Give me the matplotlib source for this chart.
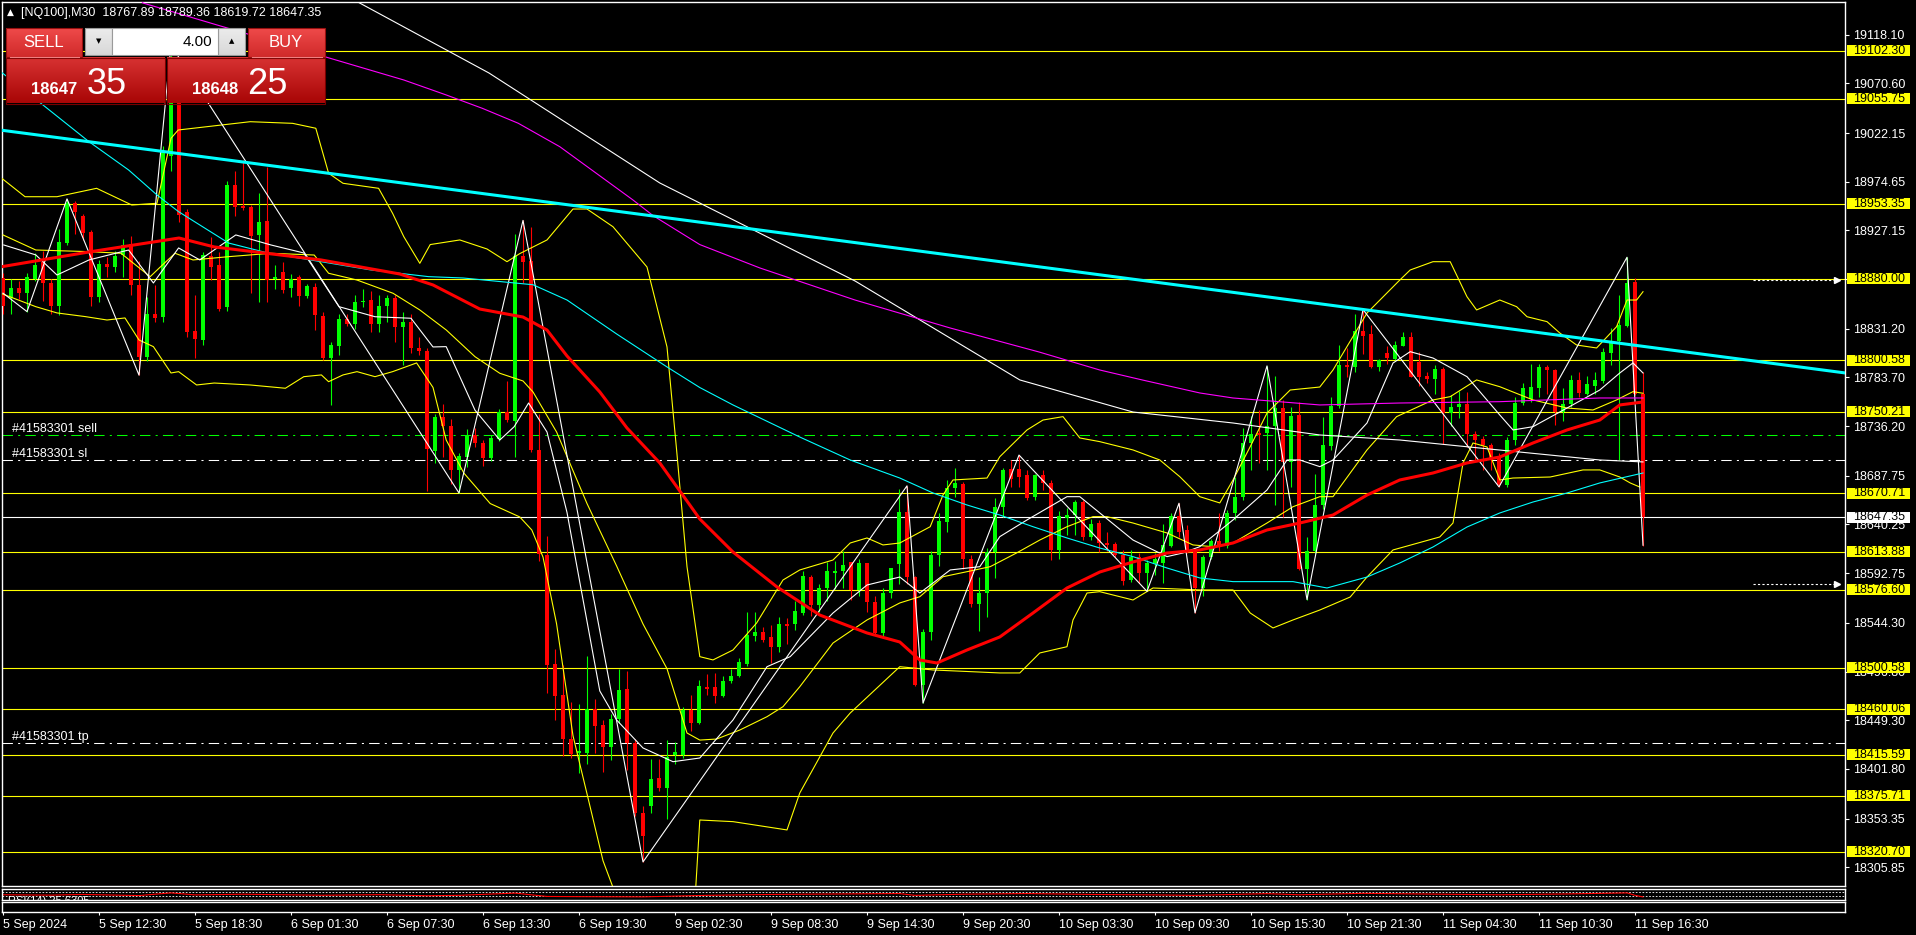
import numpy as np
import matplotlib
matplotlib.use("Agg")
import matplotlib.pyplot as plt
from matplotlib.patches import Rectangle
from matplotlib.colors import LinearSegmentedColormap
from matplotlib.transforms import blended_transform_factory

plt.rcParams['font.family'] = ['Liberation Sans', 'DejaVu Sans']

W, H, DPI = 1916, 935, 100

# ---------------- data: NQ100 M30 bars, 5 Sep 06:30 .. 11 Sep 17:00 ----------------
opens = [
    18881, 18861, 18871, 18866, 18880, 18896, 18876, 18853, 18915, 18954,
    18941, 18926, 18862, 18894, 18892, 18903, 18914, 18874, 18804, 18846,
    18843, 19000, 19058, 18945, 18829, 18820, 18902, 18893, 18852, 18972,
    18951, 18950, 18923, 18936, 18880, 18887, 18871, 18882, 18863, 18872,
    18844, 18803, 18814, 18841, 18836, 18857, 18859, 18836, 18853, 18861,
    18833, 18838, 18812, 18810, 18712, 18745, 18736, 18693, 18706, 18728,
    18720, 18705, 18724, 18750, 18741, 18902, 18897, 18713, 18610, 18504,
    18474, 18431, 18417, 18417, 18460, 18445, 18423, 18450, 18480, 18427,
    18359, 18366, 18393, 18383, 18415, 18415, 18459, 18447, 18482, 18482,
    18473, 18488, 18492, 18504, 18531, 18535, 18530, 18521, 18543, 18543,
    18554, 18589, 18562, 18578, 18593, 18595, 18604, 18576, 18603, 18565,
    18534, 18573, 18602, 18652, 18589, 18484, 18535, 18610, 18643, 18676,
    18680, 18607, 18563, 18573, 18613, 18657, 18694, 18694, 18689, 18667,
    18689, 18681, 18615, 18647, 18650, 18662, 18628, 18642, 18622, 18621,
    18610, 18586, 18609, 18593, 18603, 18603, 18619, 18649, 18635, 18614,
    18578, 18609, 18624, 18619, 18651, 18667, 18720, 18729, 18730, 18736,
    18754, 18701, 18747, 18597, 18614, 18659, 18717, 18756, 18796, 18794,
    18829, 18826, 18794, 18808, 18802, 18814, 18823, 18799, 18785, 18782,
    18792, 18749, 18755, 18758, 18729, 18724, 18718, 18706, 18679, 18723,
    18759, 18763, 18773, 18794, 18791, 18750, 18758, 18781, 18768, 18775,
    18780, 18808, 18819, 18834, 18877, 18767.89]
highs = [
    18886, 18880, 18878, 18886, 18905, 18907, 18880, 18929, 18958, 18956,
    18943, 18928, 18898, 18901, 18907, 18919, 18922, 18897, 18862, 18874,
    19010, 19108, 19075, 18948, 18864, 18906, 18921, 18906, 18975, 18985,
    18996, 18952, 18964, 18989, 18893, 18896, 18885, 18884, 18875, 18876,
    18848, 18818, 18846, 18846, 18864, 18870, 18868, 18864, 18864, 18864,
    18848, 18846, 18823, 18812, 18748, 18758, 18743, 18710, 18733, 18734,
    18723, 18728, 18753, 18780, 18924, 18937, 18931, 18748, 18629, 18519,
    18503, 18467, 18465, 18512, 18470, 18449, 18455, 18499, 18497, 18431,
    18366, 18411, 18411, 18430, 18428, 18462, 18474, 18489, 18494, 18495,
    18492, 18499, 18510, 18555, 18555, 18540, 18542, 18550, 18549, 18566,
    18595, 18591, 18582, 18604, 18605, 18614, 18604, 18607, 18603, 18570,
    18578, 18598, 18675, 18678, 18590, 18538, 18614, 18651, 18684, 18695,
    18682, 18610, 18589, 18617, 18666, 18695, 18703, 18708, 18693, 18690,
    18693, 18684, 18653, 18656, 18664, 18664, 18646, 18645, 18633, 18623,
    18615, 18615, 18612, 18606, 18612, 18641, 18651, 18661, 18640, 18615,
    18610, 18626, 18651, 18654, 18687, 18734, 18746, 18752, 18795, 18785,
    18762, 18755, 18760, 18628, 18690, 18745, 18765, 18815, 18812, 18846,
    18850, 18835, 18802, 18814, 18819, 18828, 18828, 18809, 18789, 18796,
    18794, 18767, 18771, 18770, 18731, 18727, 18720, 18710, 18726, 18765,
    18778, 18797, 18797, 18796, 18792, 18773, 18786, 18789, 18785, 18789,
    18812, 18832, 18864, 18901, 18881, 18789.36]
lows = [
    18846, 18846, 18860, 18848, 18878, 18858, 18846, 18845, 18913, 18924,
    18918, 18853, 18857, 18882, 18887, 18882, 18864, 18786, 18800, 18838,
    18838, 18985, 18935, 18823, 18803, 18815, 18879, 18849, 18849, 18941,
    18947, 18866, 18857, 18857, 18870, 18866, 18862, 18853, 18861, 18830,
    18801, 18757, 18806, 18834, 18831, 18852, 18828, 18828, 18838, 18818,
    18796, 18808, 18806, 18673, 18700, 18706, 18680, 18671, 18696, 18716,
    18697, 18702, 18722, 18740, 18706, 18876, 18711, 18605, 18476, 18449,
    18414, 18412, 18398, 18407, 18417, 18399, 18410, 18447, 18401, 18356,
    18311, 18359, 18380, 18353, 18407, 18412, 18439, 18446, 18474, 18466,
    18472, 18486, 18491, 18502, 18527, 18526, 18505, 18516, 18524, 18537,
    18552, 18551, 18555, 18566, 18577, 18578, 18567, 18570, 18555, 18533,
    18531, 18569, 18582, 18582, 18483, 18466, 18528, 18600, 18633, 18667,
    18597, 18560, 18536, 18550, 18588, 18648, 18677, 18677, 18664, 18664,
    18674, 18606, 18607, 18630, 18630, 18625, 18625, 18613, 18614, 18609,
    18581, 18584, 18583, 18575, 18591, 18583, 18618, 18628, 18612, 18554,
    18570, 18607, 18614, 18617, 18645, 18664, 18693, 18700, 18693, 18659,
    18648, 18677, 18596, 18567, 18612, 18655, 18713, 18754, 18784, 18789,
    18807, 18793, 18790, 18797, 18801, 18814, 18784, 18775, 18778, 18768,
    18719, 18736, 18744, 18716, 18703, 18693, 18693, 18677, 18677, 18718,
    18757, 18760, 18765, 18768, 18737, 18741, 18755, 18765, 18767, 18768,
    18778, 18796, 18703, 18833, 18767, 18619.72]
closes = [
    18853, 18871, 18866, 18882, 18893, 18876, 18853, 18916, 18954, 18945,
    18925, 18862, 18894, 18892, 18902, 18913, 18874, 18804, 18846, 18842,
    19004, 19060, 18942, 18828, 18821, 18903, 18892, 18851, 18972, 18950,
    18949, 18922, 18935, 18879, 18881, 18869, 18880, 18863, 18873, 18845,
    18803, 18815, 18841, 18836, 18857, 18858, 18836, 18853, 18861, 18833,
    18838, 18812, 18810, 18714, 18745, 18736, 18693, 18707, 18728, 18720,
    18705, 18725, 18750, 18742, 18902, 18896, 18713, 18611, 18503, 18473,
    18431, 18416, 18419, 18460, 18444, 18423, 18450, 18479, 18427, 18359,
    18336, 18392, 18383, 18413, 18418, 18459, 18447, 18483, 18480, 18473,
    18488, 18492, 18506, 18532, 18535, 18528, 18521, 18543, 18541, 18556,
    18590, 18562, 18578, 18595, 18595, 18601, 18576, 18603, 18565, 18534,
    18573, 18598, 18652, 18589, 18484, 18535, 18610, 18644, 18676, 18681,
    18607, 18563, 18573, 18613, 18657, 18693, 18685, 18687, 18666, 18689,
    18681, 18615, 18649, 18650, 18662, 18628, 18641, 18622, 18620, 18610,
    18585, 18609, 18593, 18603, 18607, 18620, 18649, 18633, 18614, 18578,
    18609, 18624, 18619, 18651, 18667, 18720, 18729, 18728, 18736, 18754,
    18701, 18746, 18597, 18614, 18659, 18718, 18756, 18796, 18794, 18829,
    18824, 18794, 18801, 18803, 18815, 18823, 18784, 18784, 18782, 18792,
    18749, 18755, 18758, 18729, 18723, 18718, 18703, 18679, 18723, 18759,
    18773, 18774, 18794, 18791, 18750, 18758, 18781, 18769, 18777, 18781,
    18809, 18819, 18835, 18876, 18768, 18647.35]

time_labels = ['5 Sep 2024', '5 Sep 12:30', '5 Sep 18:30', '6 Sep 01:30', '6 Sep 07:30',
               '6 Sep 13:30', '6 Sep 19:30', '9 Sep 02:30', '9 Sep 08:30', '9 Sep 14:30',
               '9 Sep 20:30', '10 Sep 03:30', '10 Sep 09:30', '10 Sep 15:30', '10 Sep 21:30',
               '11 Sep 04:30', '11 Sep 10:30', '11 Sep 16:30']
label_bars = [0, 12, 24, 36, 48, 60, 72, 84, 96, 108, 120, 132, 144, 156, 168, 180, 192, 204]

price_ticks = [19118.10, 19070.60, 19022.15, 18974.65, 18927.15, 18879.65, 18831.20, 18783.70,
               18736.20, 18687.75, 18640.25, 18592.75, 18544.30, 18496.80, 18449.30, 18401.80,
               18353.35, 18305.85]
levels = [19102.30, 19055.75, 18953.35, 18880.00, 18800.58, 18750.21, 18670.71, 18613.88,
          18576.60, 18500.58, 18460.06, 18415.59, 18375.71, 18320.70]
bid, ask = 18647.35, 18648.25
order_id = '#41583301'
sell_price, sl_price, tp_price = 18727.6, 18702.9, 18426.7
arrow_prices = [18879.0, 18582.0]

# trend line anchors (bar, price)
trend = [(0, 19024.8), (205, 18814.1)]

# indicator lines as (bar, price)
ma_red = [(-0.4, 18891.5), (10.75, 18906.2), (22, 18919.8), (26.4, 18911.1), (39.75, 18898.4),
          (49.6, 18884.7), (53.75, 18874), (59.6, 18850.5), (65, 18842.7), (68, 18830),
          (70.5, 18804.7), (74.6, 18769.6), (78, 18734.4), (82.1, 18700.3), (87.1, 18645.6),
          (91.25, 18613.4), (96.75, 18579.3), (102.1, 18551.9), (108, 18534.4), (112.1, 18525.6),
          (114.6, 18508), (116.75, 18505.1), (120.5, 18517.8), (124.6, 18530.5), (128.75, 18553.9),
          (133, 18578.3), (137.1, 18593.9), (141.25, 18603.7), (145.5, 18612.4), (149.6, 18615.4),
          (153.75, 18622.2), (158, 18634.9), (162.1, 18641.7), (166.25, 18649.5), (170.5, 18669),
          (174.6, 18683.7), (178.75, 18690.5), (183, 18700.3), (187.1, 18706.1), (191.25, 18719.8),
          (195.5, 18732.5), (199.6, 18742.2), (202.1, 18756.9), (205, 18759.8)]
ma_cyan = [(-0.4, 19082.8), (5, 19049.6), (10.75, 19013.8), (15.7, 18986.2), (19.25, 18961.8),
           (21.95, 18945.5), (28.2, 18914.9), (33.1, 18905.2), (39.75, 18896.7), (46, 18888.6),
           (53.2, 18882.1), (57.5, 18880.8), (66.25, 18874.2), (70.5, 18859.3), (76.7, 18826.2),
           (83, 18794), (87.1, 18773.9), (91.25, 18756.9), (99.6, 18725.6), (105.9, 18703.2),
           (112.1, 18685.6), (116.25, 18671), (120.5, 18659.3), (124.6, 18649.5), (128.75, 18638.1),
           (133, 18627.1), (137.1, 18617.3), (141.25, 18608.9), (145.5, 18597.8), (149.6, 18588.1),
           (153.75, 18584.5), (161.25, 18584.5), (165.5, 18578.3), (170.5, 18589), (174.6, 18602.7),
           (178.75, 18618.3), (183, 18637.8), (187.1, 18651.5), (191.25, 18662.2), (195.5, 18671),
           (199.6, 18680.8), (205, 18690.5)]
ma_magenta = [(16.25, 19161.8), (17.5, 19149.1), (26.75, 19127.7), (50.1, 19074), (55.4, 19059.4),
              (59.9, 19046.4), (64.4, 19031.8), (69.6, 19008.9), (78.75, 18956.9), (81.25, 18941.7),
              (87.1, 18913.4), (94.6, 18890.6), (106.5, 18859.3), (118.4, 18832), (129.5, 18808.6),
              (137.1, 18791), (142.4, 18781.3), (149.6, 18768.6), (153.75, 18763.7), (164.6, 18756.9),
              (174.6, 18758.8), (187.1, 18760.1), (199.6, 18763.7), (205, 18763.7)]
ma_white_slow = [(40, 19190), (43.9, 19152), (60.75, 19080.8), (82.1, 18973.5), (106.5, 18877.9),
                 (127.1, 18781.3), (141.25, 18750), (153.75, 18739.3), (164.6, 18727.6),
                 (174.6, 18722.7), (187.1, 18712.9), (199.6, 18703.2), (205, 18701.3)]
ma_white_fast = [(0.1, 18913), (4.1, 18903.3), (6.75, 18883.7), (10.75, 18898.4), (15.7, 18908.1),
                 (18.8, 18875.9), (21.95, 18910.1), (24.6, 18898.4), (29.1, 18922.8), (33.5, 18913),
                 (37.6, 18905.2), (42, 18852.8), (46.5, 18843), (51, 18841.5), (53.75, 18813.5),
                 (55.4, 18813.8), (59, 18751.8), (62.1, 18722.7), (63.9, 18735.7), (65.7, 18758.8),
                 (68, 18730.5), (70.5, 18652), (74.6, 18477.8), (76.7, 18449.5), (80, 18422.2),
                 (83.75, 18408.8), (87.1, 18412.4), (91.25, 18449.5), (95.5, 18501.5), (98.4, 18511.3),
                 (103.75, 18553.9), (108, 18581.2), (112.1, 18589), (114.6, 18573.4), (118.4, 18595.9),
                 (122.1, 18599.1), (124.6, 18628.4), (128, 18644.7), (133, 18667.4), (134.6, 18667.4),
                 (137.1, 18651.5), (141.25, 18625.1), (145.5, 18608.9), (147.5, 18612.5),
                 (149.6, 18618.6), (153.75, 18644.7), (158, 18673.9), (160.5, 18703.2),
                 (162.1, 18703.2), (164.6, 18696.7), (166.25, 18703.2), (170.5, 18739.3),
                 (173.75, 18797.8), (175.9, 18808.9), (178.75, 18802.7), (183, 18784.5),
                 (187.1, 18747.1), (188.75, 18732.5), (191.25, 18735.7), (195.5, 18753.9),
                 (199.6, 18771.5), (202.1, 18788.1), (203.75, 18797.9), (205, 18788.1)]
band_upper = [(-0.4, 18979.6), (2.75, 18960.1), (6.75, 18960.1), (11.7, 18968.3), (16.1, 18952),
              (19.25, 18953.7), (21, 19017.1), (21.9, 19025.2), (30.9, 19033.3), (36.2, 19031.7),
              (39.1, 19026.9), (40.7, 18983), (42.5, 18973.2), (46.95, 18968.3), (48.7, 18943.9),
              (50.1, 18921.1), (52.1, 18895.1), (53.4, 18913.4), (57.1, 18917.9), (60.5, 18909.1),
              (63, 18896.7), (64.6, 18904.6), (68, 18917.9), (71.25, 18948.1), (73, 18948.1),
              (76.25, 18930.8), (80.5, 18891.5), (83, 18813.5), (84.2, 18713), (85.5, 18599.1),
              (87.1, 18511.3), (88.75, 18508.1), (91.25, 18517.8), (94.2, 18544.1), (97.5, 18586.1),
              (99.6, 18595.9), (103.75, 18605.6), (105.9, 18622.2), (108, 18627.1), (110, 18620.3),
              (112.1, 18622.2), (115.9, 18638.1), (117.5, 18669.1), (118.75, 18683.7), (123, 18685.6),
              (124.6, 18706.4), (128, 18732.5), (130, 18742.2), (132.5, 18745.5), (134.6, 18724.7),
              (137.1, 18721.1), (141.25, 18713), (144.6, 18703.2), (147.1, 18686.9), (149.6, 18667.4),
              (152.1, 18661.3), (153.75, 18683.7), (155.9, 18716.2), (158, 18749), (160.9, 18771.5),
              (164.6, 18774.4), (166.25, 18791), (170.5, 18846.6), (174.6, 18878.8), (175.9, 18888.6),
              (178.75, 18896.7), (180.9, 18896.7), (183, 18862.5), (184.2, 18849.6), (187.1, 18859.3),
              (189.2, 18852.8), (190.5, 18843), (193, 18838.2), (194.6, 18827.1), (196.7, 18815.4),
              (199.2, 18812.5), (201.7, 18833.3), (203, 18859.3), (204.2, 18859.3), (205, 18867.4)]
band_lower = [(-0.4, 18866.2), (4.1, 18852.8), (6.75, 18846.7), (10.3, 18843.1), (13, 18839.8),
              (15.25, 18841.8), (17, 18820.3), (18.8, 18813.8), (21, 18788.1), (21.95, 18789.4),
              (24.2, 18776.4), (26.4, 18778.3), (30.9, 18776.4), (35.3, 18773.2), (37.6, 18784.5),
              (39.8, 18786.2), (40.7, 18779.6), (42.5, 18786.2), (44.25, 18789.4), (46.5, 18784.5),
              (48.7, 18789.4), (51.7, 18797.9), (53.75, 18774), (55.4, 18722.7), (57.6, 18690.5),
              (60.9, 18660.7), (64.6, 18647.6), (66.1, 18634.9), (67.5, 18608.5), (69.2, 18543.2),
              (71.25, 18434.1), (73, 18377.5), (75, 18312.2), (76.25, 18286.1), (79.6, 18215.3),
              (84.6, 18195.8), (86.5, 18273.8), (87.1, 18351.9), (91.25, 18350.3), (98, 18342.2),
              (99.6, 18378.3), (103.75, 18436.8), (105.9, 18456.3), (112.1, 18501.5), (116.25, 18498.3),
              (124.6, 18495.4), (127.1, 18495.4), (129.6, 18514.9), (133, 18521), (133.75, 18547.1),
              (135.5, 18573.4), (137.1, 18574.7), (141.25, 18566.6), (143.75, 18578.3), (149.6, 18576.4),
              (153.75, 18576.4), (155.9, 18553.9), (158.75, 18539.3), (161.25, 18547.1), (164.6, 18556.8),
              (168.4, 18569.5), (170.5, 18589), (173.75, 18615.4), (179.6, 18628.1), (181.25, 18641.7),
              (182.5, 18700.3), (183.75, 18719.8), (185.5, 18715.9), (187.1, 18683.7), (188.75, 18685.6),
              (193.4, 18686.6), (197.5, 18693.5), (199.6, 18693.5), (202.1, 18686.6), (203.4, 18680.8),
              (204.6, 18676.8)]
band_mid = [(0, 18922.8), (4.1, 18908.1), (10.75, 18906.5), (14.75, 18904.9), (18.4, 18882.1),
            (19.7, 18891.8), (21.5, 18904.9), (23.75, 18898.4), (28.2, 18901.6), (33.5, 18904.9),
            (38.9, 18903.2), (40.7, 18885.4), (44.25, 18878.8), (48.75, 18865.9), (52.1, 18849.6),
            (55.4, 18830.1), (59, 18804), (62.1, 18787.8), (65, 18780.3), (66.25, 18769.6),
            (69.2, 18730.5), (73, 18660.7), (76.7, 18599.8), (80, 18543.2), (83, 18499.5),
            (85.5, 18436.8), (87.1, 18429.9), (89.2, 18430.9), (92.1, 18439.7), (95.5, 18452.7),
            (97.5, 18462.5), (99.6, 18482), (103.75, 18524.6), (108, 18547.1), (112.1, 18563.7),
            (114.6, 18569.8), (117.5, 18589.3), (120.5, 18594.2), (123.4, 18599.1), (126.7, 18612.5),
            (129.6, 18625.1), (133, 18638.1), (136.25, 18647.9), (138, 18647.9), (141.25, 18641.7),
            (145.5, 18632), (148.75, 18620.3), (151.25, 18618.6), (153.75, 18622.2), (158, 18641.7),
            (161.25, 18657.6), (164.6, 18667.4), (166.25, 18667.4), (170.5, 18713), (174.2, 18745.5),
            (178.75, 18761.8), (180.9, 18765), (184.2, 18781.3), (187.1, 18774.7), (191.25, 18761.8),
            (195.5, 18753.9), (198.75, 18752), (201.7, 18761.8), (203.75, 18769.9), (205, 18768.3)]
zigzag = [(0, 18866), (3, 18848), (8, 18958), (17, 18786), (21, 19108), (57, 18671), (65, 18937),
          (80, 18311), (113, 18678), (115, 18466), (127, 18708), (143, 18575), (147, 18661),
          (149, 18554), (158, 18795), (163, 18567), (170, 18850), (187, 18677), (203, 18901),
          (205, 18620)]
rsi = [(0, 45), (6, 42), (10, 48), (17, 38), (21, 62), (24, 44), (30, 50), (40, 41), (47, 46),
       (53, 36), (57, 40), (64, 60), (68, 30), (72, 28), (80, 26), (88, 40), (96, 48), (104, 52),
       (112, 56), (114, 40), (120, 50), (128, 56), (136, 48), (144, 44), (149, 40), (158, 55),
       (162, 45), (170, 58), (180, 50), (187, 45), (195, 52), (203, 62), (204, 40), (205, 25.6)]

# ---------------- figure ----------------
fig = plt.figure(figsize=(W / DPI, H / DPI), dpi=DPI, facecolor='black')


def px_axes(x0, y0, x1, y1):
    a = fig.add_axes([x0 / W, 1 - y1 / H, (x1 - x0) / W, (y1 - y0) / H])
    a.set_facecolor('black')
    for s in a.spines.values():
        s.set_color('white')
        s.set_linewidth(1)
    return a


ax = px_axes(2, 2, 1845, 886)
XLIM = (-0.125, 230.25)
ax.set_xlim(*XLIM)
ax.set_ylim(18287.5, 19150.1)

# horizontal levels and order lines
for lv in levels:
    ax.axhline(lv, color='#ffff00', lw=0.8, zorder=2)
ax.axhline(bid, color='white', lw=0.8, zorder=2)
dashdot = (0, (10, 5, 2, 5))
ax.axhline(sell_price, color='#00ff00', lw=0.75, ls=dashdot, zorder=2)
ax.axhline(sl_price, color='white', lw=0.75, ls=dashdot, zorder=2)
ax.axhline(tp_price, color='white', lw=0.75, ls=dashdot, zorder=2)
for txt, p in [(order_id + ' sell', sell_price), (order_id + ' sl', sl_price),
               (order_id + ' tp', tp_price)]:
    ax.text(1.1, p, txt, color='white', fontsize=9, va='bottom', ha='left', zorder=8)

# candles
o, hi, lo, c = map(np.array, (opens, highs, lows, closes))
idx = np.arange(len(o))
col = np.where(c >= o, '#00ff00', '#ff0000')
ax.vlines(idx, lo, hi, colors=col, lw=0.8, zorder=3)
ax.bar(idx, np.maximum(np.abs(c - o), 1.5), bottom=np.minimum(o, c), width=0.62,
       color=col, lw=0, zorder=3)


def line(pairs, **kw):
    xs, ys = zip(*pairs)
    ax.plot(xs, ys, **kw)


line(band_upper, color='#ffff00', lw=0.8, zorder=4)
line(band_lower, color='#ffff00', lw=0.8, zorder=4)
line(band_mid, color='#ffff00', lw=0.8, zorder=4)
line(ma_white_slow, color='white', lw=0.8, zorder=4)
line(ma_white_fast, color='white', lw=0.8, zorder=4)
line(zigzag, color='white', lw=0.8, zorder=4)
line(ma_magenta, color='#ff00ff', lw=0.8, zorder=4)
line(ma_cyan, color='#00ffff', lw=0.8, zorder=4)
line(ma_red, color='#ff0000', lw=2.2, zorder=5)
ax.axline(trend[0], trend[1], color='#00ffff', lw=2.2, zorder=5)

# trade arrows on the right
for p in arrow_prices:
    ax.plot([218.75, 229.3], [p, p], color='white', lw=0.8, ls=(0, (2, 2)), zorder=6)
    ax.plot([229.3], [p], marker='>', color='white', ms=5, zorder=6)

# price scale
ax.set_xticks([])
ax.yaxis.tick_right()
ax.set_yticks(price_ticks)
ax.set_yticklabels([f'{v:.2f}' for v in price_ticks])
ax.tick_params(axis='y', colors='white', labelsize=9, length=3, width=0.8, pad=2.5)

trans = blended_transform_factory(ax.transAxes, ax.transData)
half = 5.5 * 0.9758
for lv, fc in [(v, '#ffff00') for v in levels] + [(bid, 'white')]:
    ax.add_patch(Rectangle((1.0009, lv - half), 0.0344, 2 * half, transform=trans,
                           fc=fc, ec='none', clip_on=False, zorder=30))
    ax.text(1.0042, lv, f'{lv:.2f}', transform=trans, color='black', fontsize=9,
            va='center', ha='left', clip_on=False, zorder=31)

# RSI sub window
rax = px_axes(2, 888.7, 1845, 900.3)
rax.set_xlim(*XLIM)
rax.set_ylim(-5, 100)
rax.set_xticks([])
rax.set_yticks([])
for lvl in (70, 30):
    rax.axhline(lvl, color='white', lw=0.6, ls=(0, (2, 2)))
rx, ry = zip(*rsi)
rax.plot(rx, ry, color='#ff0000', lw=0.8)
rax.text(0.0035, 0.35, 'RSI(14) 25.6305', transform=rax.transAxes, color='white',
         fontsize=8, va='top', ha='left', clip_on=True)

# empty sub window + time scale
tax = px_axes(2, 902.3, 1845, 911.7)
tax.set_xlim(*XLIM)
tax.set_yticks([])
tax.set_xticks(label_bars)
tax.set_xticklabels(time_labels)
tax.tick_params(axis='x', colors='white', labelsize=9, length=2, width=0.8, pad=3.5)
for t in tax.get_xticklabels():
    t.set_horizontalalignment('left')

# ---------------- overlay: header and one-click trading panel ----------------
ov = fig.add_axes([0, 0, 1, 1], zorder=10)
ov.set_xlim(0, W)
ov.set_ylim(H, 0)
ov.set_autoscale_on(False)
ov.axis('off')
ov.patch.set_alpha(0)


def grad_box(x0, y0, x1, y1, top, bot, edge=None):
    cm = LinearSegmentedColormap.from_list('g', [top, bot])
    ov.imshow(np.linspace(0, 1, 64).reshape(-1, 1), cmap=cm, extent=(x0, x1, y1, y0),
              aspect='auto', zorder=1, interpolation='bilinear')
    if edge:
        ov.add_patch(Rectangle((x0, y0), x1 - x0, y1 - y0, fc='none', ec=edge, lw=0.8, zorder=2))


ov.text(7, 12.5, '\u25b2', color='white', fontsize=6.5, va='center', ha='left',
        family=['DejaVu Sans'])
ov.text(21.5, 12.7, '[NQ100],M30  ' + ' '.join(f'{v:.2f}' for v in
        (opens[-1], highs[-1], lows[-1], closes[-1])), color='white', fontsize=9,
        va='center', ha='left')

grad_box(6, 28, 82, 57, '#ef4a4a', '#d02a2a', '#9a1010')
grad_box(248, 28, 325, 57, '#ef4a4a', '#d02a2a', '#9a1010')
ov.plot([10, 79], [56.5, 56.5], color='#f08080', lw=0.8, zorder=3)
ov.plot([252, 322], [56.5, 56.5], color='#f08080', lw=0.8, zorder=3)
ov.text(44, 42.5, 'SELL', color='white', fontsize=12, ha='center', va='center', zorder=4)
ov.text(286, 42.5, 'BUY', color='white', fontsize=12, ha='center', va='center', zorder=4)
grad_box(85, 28, 112.5, 55, '#ececec', '#d8d8d8', '#9a9a9a')
grad_box(218.5, 28, 245.5, 55, '#ececec', '#d8d8d8', '#9a9a9a')
ov.add_patch(Rectangle((112.5, 28), 106, 27, fc='white', ec='#9a9a9a', lw=0.8, zorder=2))
ov.text(98.7, 41.5, '\u25bc', color='black', fontsize=5, ha='center', va='center',
        family=['DejaVu Sans'], zorder=4)
ov.text(232, 41.5, '\u25b2', color='black', fontsize=5, ha='center', va='center',
        family=['DejaVu Sans'], zorder=4)
ov.text(212.5, 42, '4.00', color='black', fontsize=11, ha='right', va='center', zorder=4)

grad_box(6, 57.5, 165, 103.5, '#d83232', '#a80606', '#7a0000')
grad_box(167, 57.5, 325, 103.5, '#d83232', '#a80606', '#7a0000')
for x_big, x_small, price in [(31.5, 87, bid), (192.5, 247, ask)]:
    whole, frac = f'{price:.2f}'.split('.')
    ov.text(x_big, 93.5, whole, color='white', fontsize=12, fontweight='bold',
            ha='left', va='baseline', zorder=4)
    ov.text(x_small, 93.5, frac, color='white', fontsize=26, ha='left', va='baseline', zorder=4)

ov.set_xlim(0, W)
ov.set_ylim(H, 0)

fig.savefig('out.png', dpi=DPI, facecolor='black')
